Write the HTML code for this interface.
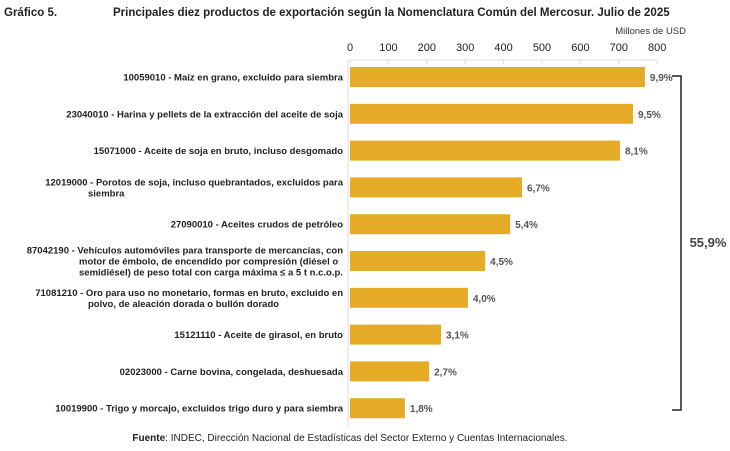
<!DOCTYPE html>
<html><head><meta charset="utf-8"><style>
body{margin:0;background:#fff;font-family:"Liberation Sans",Arial,sans-serif;}
svg text{font-family:"Liberation Sans",Arial,sans-serif;}
</style></head><body>
<svg id="c" width="730" height="446" xmlns="http://www.w3.org/2000/svg">
<text x="4" y="16" font-size="11.5" font-weight="bold" fill="#222">Gráfico 5.</text>
<text x="113" y="16" font-size="11.5" font-weight="bold" fill="#222">Principales diez productos de exportación según la Nomenclatura Común del Mercosur. Julio de 2025</text>
<text x="686" y="34" font-size="9.5" fill="#333" text-anchor="end">Millones de USD</text>
<g id="axis"></g><g id="bars"></g>
<path d="M672 76 H681 V410 H672" fill="none" stroke="#222" stroke-width="1.5"/>
<text x="708" y="247" font-size="13" font-weight="bold" fill="#444" text-anchor="middle">55,9%</text>
<text x="350" y="441" font-size="10" fill="#222" text-anchor="middle"><tspan font-weight="bold">Fuente</tspan>: INDEC, Dirección Nacional de Estadísticas del Sector Externo y Cuentas Internacionales.</text>
</svg>
<script>
const categories=[
["10059010 - Maíz en grano, excluido para siembra"],
["23040010 - Harina y pellets de la extracción del aceite de soja"],
["15071000 - Aceite de soja en bruto, incluso desgomado"],
["12019000 - Porotos de soja, incluso quebrantados, excluidos para","siembra"],
["27090010 - Aceites crudos de petróleo"],
["87042190 -  Vehículos automóviles para transporte de mercancías, con","motor de émbolo, de encendido por compresión (diésel o","semidiésel) de peso total con carga máxima ≤  a 5 t n.c.o.p."],
["71081210 - Oro para uso no monetario, formas en bruto, excluido en","polvo, de aleación dorada o bullón dorado"],
["15121110 - Aceite de girasol, en bruto"],
["02023000 - Carne bovina, congelada, deshuesada"],
["10019900 - Trigo y morcajo, excluidos trigo duro y para siembra"]];
const values=[768,737,703,448,417,352,307,237,206,143];
const shares=["9,9%","9,5%","8,1%","6,7%","5,4%","4,5%","4,0%","3,1%","2,7%","1,8%"];
const ticks=[0,100,200,300,400,500,600,700,800];
const NS="http://www.w3.org/2000/svg";
const x=v=>350+v*0.384;
const y=i=>77+i*36.8;
function mk(t,a,p){const e=document.createElementNS(NS,t);for(const k in a)e.setAttribute(k,a[k]);p.appendChild(e);return e;}
const ax=document.getElementById('axis'),bg=document.getElementById('bars');
let l=mk('line',{x1:x(0),x2:x(800),y1:60,y2:60,stroke:'#ddd'},ax);


l=mk('line',{x1:348,x2:348,y1:60,y2:426,stroke:'#ddd'},ax);


ticks.forEach(t=>{
 const tk=mk('line',{x1:x(t),x2:x(t),y1:60,y2:64,stroke:'#ddd'},ax);
 
 
 const tx=mk('text',{x:x(t),y:51,'font-size':11,'text-anchor':'middle',fill:'#222'},ax);
 tx.textContent=t;
 
 
});
values.forEach((v,i)=>{
 const r=mk('rect',{x:x(0),y:y(i)-10,width:x(v)-x(0),height:20,fill:'#e6ac27'},bg);
 
 
 const s=mk('text',{x:x(v)+5,y:y(i)+4,'font-size':10,'font-weight':'bold',fill:'#555'},bg);
 s.textContent=shares[i];
 
 
 const lines=categories[i];const n=lines.length;
 const t=mk('text',{'font-size':9.5,'font-weight':'bold',fill:'#222'},bg);
 
 
 const y0=y(i)+3.5-(n-1)*5.5;
 lines.forEach((s2,j)=>{
  const ts=mk('tspan',{y:y0+j*11},t);
  if(j==0){ts.setAttribute('x',343);ts.setAttribute('text-anchor','end');}
  else{ts.setAttribute('x',n==3?79:88);}
  ts.textContent=s2;
 });
});
</script>
</body></html>
